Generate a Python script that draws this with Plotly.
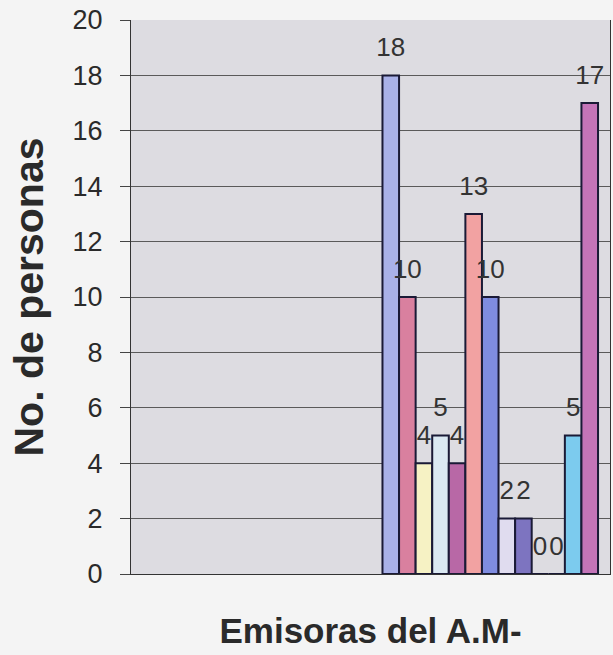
import plotly.graph_objects as go

# Datos (una sola categoría, 13 series)
categoria = ["Emisoras"]
series = ["Serie 1", "Serie 2", "Serie 3", "Serie 4", "Serie 5", "Serie 6", "Serie 7",
          "Serie 8", "Serie 9", "Serie 10", "Serie 11", "Serie 12", "Serie 13"]
valores = [18, 10, 4, 5, 4, 13, 10, 2, 2, 0, 0, 5, 17]
colores = ["#a9b1e8", "#d9809f", "#f6f2c4", "#dbe9f2", "#b868a6", "#f2a2a2", "#7f8ce0",
           "#e0dcef", "#7d74c0", "#e060e0", "#f0f060", "#7ccbee", "#c474b8"]
marcas_y = [0, 2, 4, 6, 8, 10, 12, 14, 16, 18, 20]

fuente = "Liberation Sans, Arial, sans-serif"

fig = go.Figure()
for nombre, v, c in zip(series, valores, colores):
    # la línea en blanco pequeña separa la etiqueta de la barra, como en Excel
    fig.add_trace(go.Bar(
        x=categoria, y=[v], name=nombre,
        marker=dict(color=c, line=dict(color="#1a1a36", width=2)),
        text=[f"<span style='font-size:26px'>{v}</span><br> "],
        textposition="outside", constraintext="none", cliponaxis=False,
        textfont=dict(family=fuente, size=11, color="#333333"),
    ))

fig.update_layout(
    width=613, height=655, autosize=False,
    margin=dict(l=131, r=3, t=20, b=81),
    barmode="group", bargap=0.1, bargroupgap=0,
    showlegend=False,
    paper_bgcolor="#f4f4f4", plot_bgcolor="#dddce1",
    font=dict(family=fuente, color="#2a2a2a"),
)
fig.update_xaxes(
    range=[-1.5, 0.5], showticklabels=False, ticks="",
    showline=True, linecolor="#333333", linewidth=1,
    title=dict(text="<b>Emisoras del A.M-</b>", font=dict(size=35, color="#2a2a2a"), standoff=44),
)
fig.update_yaxes(
    range=[0, 20], tickvals=marcas_y, ticks="outside", ticklen=10, tickcolor="#444444",
    tickfont=dict(size=27, color="#2a2a2a"), ticklabelstandoff=12,
    showgrid=True, gridcolor="#5a5a5a", gridwidth=1,
    showline=True, linecolor="#333333", linewidth=1, mirror=True, zeroline=False,
    title=dict(text="<b>No. de personas</b>", font=dict(size=41, color="#2a2a2a"), standoff=16),
)

fig.write_html("out.html", config={"displayModeBar": False},
               post_script="document.body.style.margin='0';document.body.style.background='#f4f4f4';")
